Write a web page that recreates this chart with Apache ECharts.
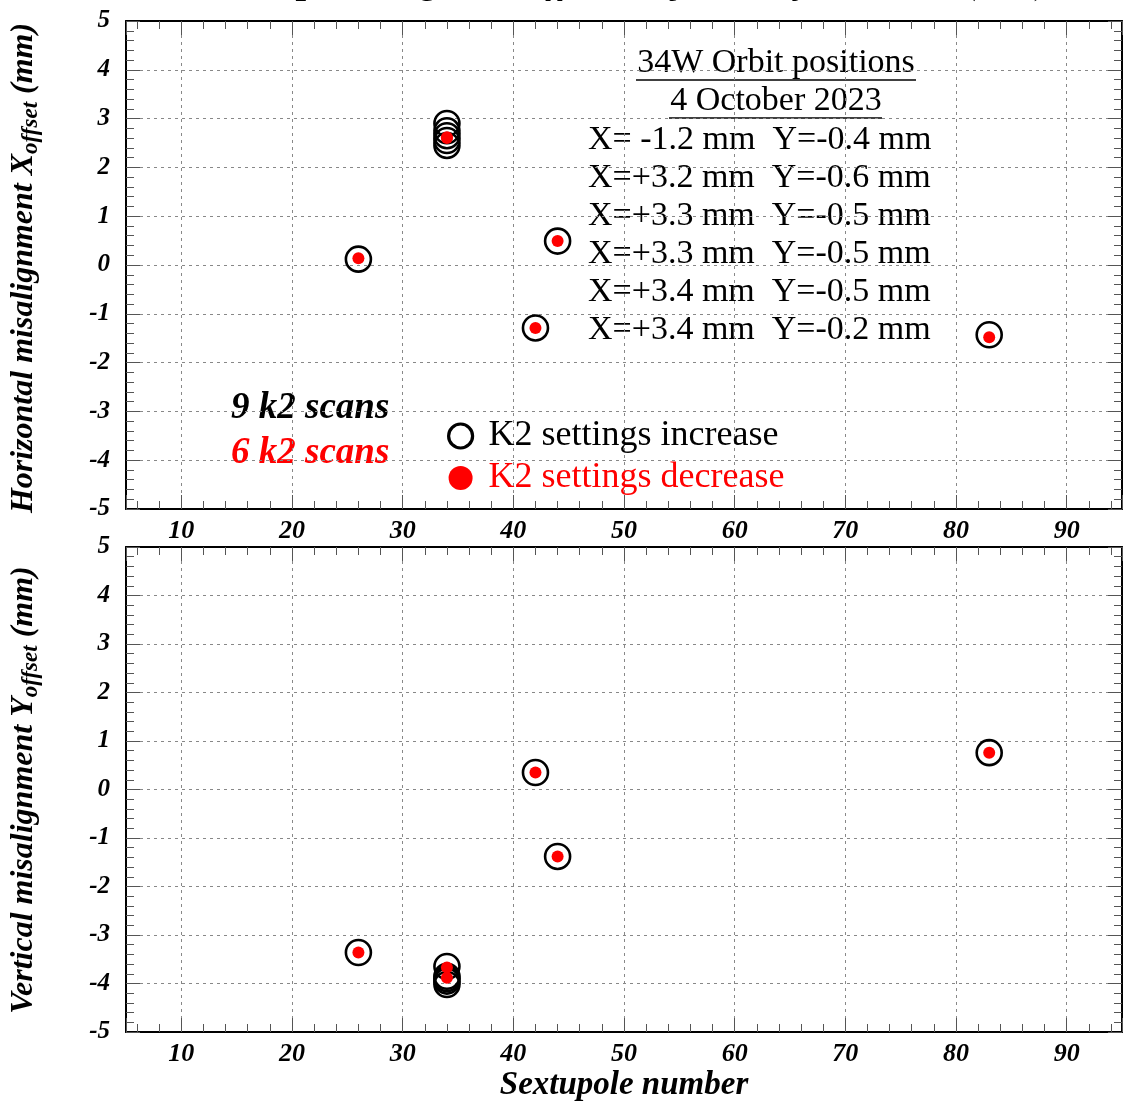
<!DOCTYPE html>
<html>
<head>
<meta charset="utf-8">
<script src="https://cdn.jsdelivr.net/npm/echarts@6/dist/echarts.min.js"></script>
<style>
  html, body { margin: 0; padding: 0; background: #fff; }
  #chart { width: 1124px; height: 1103px; }
</style>
</head>
<body>
<div id="chart"></div>
<script>
// ---- data ----
const xIncrease = [26, 34, 34, 34, 34, 34, 42, 44, 83];
const hIncrease = [0.12, 2.9, 2.75, 2.65, 2.55, 2.45, -1.29, 0.49, -1.43];
const vIncrease = [-3.36, -3.65, -3.85, -3.9, -3.95, -4.02, 0.35, -1.38, 0.76];
const xDecrease = [26, 34, 34, 42, 44, 83];
const hDecrease = [0.14, 2.62, 2.6, -1.29, 0.49, -1.48];
const vDecrease = [-3.36, -3.67, -3.88, 0.35, -1.38, 0.76];
const orbitTitle = ["34W Orbit positions", "4 October 2023"];
const orbitLines = [
  "X= -1.2 mm  Y=-0.4 mm",
  "X=+3.2 mm  Y=-0.6 mm",
  "X=+3.3 mm  Y=-0.5 mm",
  "X=+3.3 mm  Y=-0.5 mm",
  "X=+3.4 mm  Y=-0.5 mm",
  "X=+3.4 mm  Y=-0.2 mm"
];
const scanNotes = ["9 k2 scans", "6 k2 scans"];
const seriesNames = ["K2 settings increase", "K2 settings decrease"];
const xRange = [5, 95];
const yRange = [-5, 5];

const SERIF = '"Liberation Serif", "DejaVu Serif", serif';
const zip = (a, b) => a.map((v, i) => [v, b[i]]);

const chart = echarts.init(document.getElementById('chart'), null, { renderer: 'canvas' });

function xAx(grid, pos, labels) {
  return {
    type: 'value', gridIndex: grid, position: pos,
    min: xRange[0], max: xRange[1], splitNumber: 9,
    axisLine: { show: true, onZero: false, lineStyle: { color: '#000', width: 2 } },
    axisTick: { show: true, inside: true, length: 14, lineStyle: { color: '#555', width: 1 } },
    minorTick: { show: true, splitNumber: 5, length: 8, lineStyle: { color: '#555', width: 1 } },
    splitLine: { show: labels, lineStyle: { color: '#888', type: [3, 4], width: 1 } },
    axisLabel: {
      show: labels, margin: 9, color: '#000', fontFamily: SERIF, fontSize: 26,
      fontWeight: 'bold', fontStyle: 'italic', showMinLabel: false, showMaxLabel: false,
      formatter: v => (v % 10 === 0 ? String(v) : '')
    }
  };
}
function yAx(grid, pos, labels) {
  return {
    type: 'value', gridIndex: grid, position: pos,
    min: yRange[0], max: yRange[1], interval: 1,
    axisLine: { show: true, onZero: false, lineStyle: { color: '#000', width: 2 } },
    axisTick: { show: true, inside: true, length: 14, lineStyle: { color: '#555', width: 1 } },
    minorTick: { show: true, splitNumber: 5, length: 8, lineStyle: { color: '#555', width: 1 } },
    splitLine: { show: labels, lineStyle: { color: '#888', type: [3, 4], width: 1 } },
    axisLabel: {
      show: labels, margin: 16, color: '#000', fontFamily: SERIF, fontSize: 25,
      fontWeight: 'bold', fontStyle: 'italic'
    }
  };
}

const xAxes = [xAx(0, 'bottom', true), xAx(0, 'top', false), xAx(1, 'bottom', true), xAx(1, 'top', false)];
xAxes[2].name = 'Sextupole number';
xAxes[2].nameLocation = 'middle';
xAxes[2].nameGap = 37;
xAxes[2].nameTextStyle = { color: '#000', fontFamily: SERIF, fontSize: 33, fontWeight: 'bold', fontStyle: 'italic' };
const yAxes = [yAx(0, 'left', true), yAx(0, 'right', false), yAx(1, 'left', true), yAx(1, 'right', false)];

const openStyle = { color: 'rgba(0,0,0,0)', borderColor: '#000', borderWidth: 2.6, opacity: 1 };
const redStyle = { color: '#ff0000', opacity: 1 };

const series = [
  { name: seriesNames[0], type: 'scatter', xAxisIndex: 0, yAxisIndex: 0, symbol: 'circle', symbolSize: 25, itemStyle: openStyle, data: zip(xIncrease, hIncrease), z: 3 },
  { name: seriesNames[1], type: 'scatter', xAxisIndex: 0, yAxisIndex: 0, symbol: 'circle', symbolSize: 12, itemStyle: redStyle, data: zip(xDecrease, hDecrease), z: 4 },
  { name: seriesNames[0], type: 'scatter', xAxisIndex: 2, yAxisIndex: 2, symbol: 'circle', symbolSize: 25, itemStyle: openStyle, data: zip(xIncrease, vIncrease), z: 3 },
  { name: seriesNames[1], type: 'scatter', xAxisIndex: 2, yAxisIndex: 2, symbol: 'circle', symbolSize: 12, itemStyle: redStyle, data: zip(xDecrease, vDecrease), z: 4 }
];

const graphics = [];
// partial (cropped) title
graphics.push({
  type: 'text', x: 630, y: 2, silent: true,
  style: { text: 'Sextupole magnetic offsets adjusted by k2 scans (mm)', fontFamily: SERIF, fontSize: 38, fontWeight: 'bold', fontStyle: 'italic', fill: '#000', align: 'center', verticalAlign: 'bottom' }
});
// orbit header
const hdrY = [63, 101];
orbitTitle.forEach((t, i) => {
  graphics.push({ type: 'text', x: 776, y: hdrY[i], style: { text: t, fontFamily: SERIF, fontSize: 34, fill: '#000', align: 'center', verticalAlign: 'middle' } });
});
graphics.push({ type: 'line', shape: { x1: 636, y1: 80, x2: 916, y2: 80 }, style: { stroke: '#000', lineWidth: 1.5 } });
graphics.push({ type: 'line', shape: { x1: 669, y1: 118, x2: 882, y2: 118 }, style: { stroke: '#000', lineWidth: 1.5 } });
orbitLines.forEach((t, i) => {
  graphics.push({ type: 'text', x: 588, y: 140 + 38 * i, style: { text: t, fontFamily: SERIF, fontSize: 34, fill: '#000', align: 'left', verticalAlign: 'middle' } });
});
scanNotes.forEach((t, i) => {
  graphics.push({ type: 'text', x: 231, y: 408 + 45 * i, style: { text: t, fontFamily: SERIF, fontSize: 37, fontWeight: 'bold', fontStyle: 'italic', fill: i === 0 ? '#000' : '#ff0000', align: 'left', verticalAlign: 'middle' } });
});
// y-axis names
const yNames = [
  { main: 'Horizontal misalignment X', sub: 'offset', cy: 268 },
  { main: 'Vertical misalignment Y', sub: 'offset', cy: 790 }
];
yNames.forEach(n => {
  graphics.push({
    type: 'text', x: 24, y: n.cy, rotation: Math.PI / 2,
    style: {
      text: '{m|' + n.main + '}{s|' + n.sub + '}{m| (mm)}',
      align: 'center', verticalAlign: 'middle',
      rich: {
        m: { fontFamily: SERIF, fontSize: 32, fontWeight: 'bold', fontStyle: 'italic', fill: '#000', lineHeight: 38 },
        s: { fontFamily: SERIF, fontSize: 23, fontWeight: 'bold', fontStyle: 'italic', fill: '#000', lineHeight: 38, padding: [14, 0, 0, 0] }
      }
    }
  });
});

chart.setOption({
  animation: false,
  backgroundColor: '#fff',
  grid: [
    { left: 126, right: 2, top: 21, height: 488, containLabel: false },
    { left: 126, right: 2, top: 547, height: 485, containLabel: false }
  ],
  xAxis: xAxes,
  yAxis: yAxes,
  legend: {
    show: true, selectedMode: false, orient: 'vertical', left: 442, top: 413,
    itemWidth: 24, itemHeight: 24, itemGap: 6,
    textStyle: { fontFamily: SERIF, fontSize: 36, padding: [0, 0, 0, 11] },
    data: [
      { name: seriesNames[0], textStyle: { color: '#000' }, itemStyle: { borderWidth: 3.2, borderColor: '#000', color: 'rgba(0,0,0,0)' } },
      { name: seriesNames[1], textStyle: { color: '#ff0000' } }
    ]
  },
  series: series,
  graphic: graphics
});
</script>
</body>
</html>
